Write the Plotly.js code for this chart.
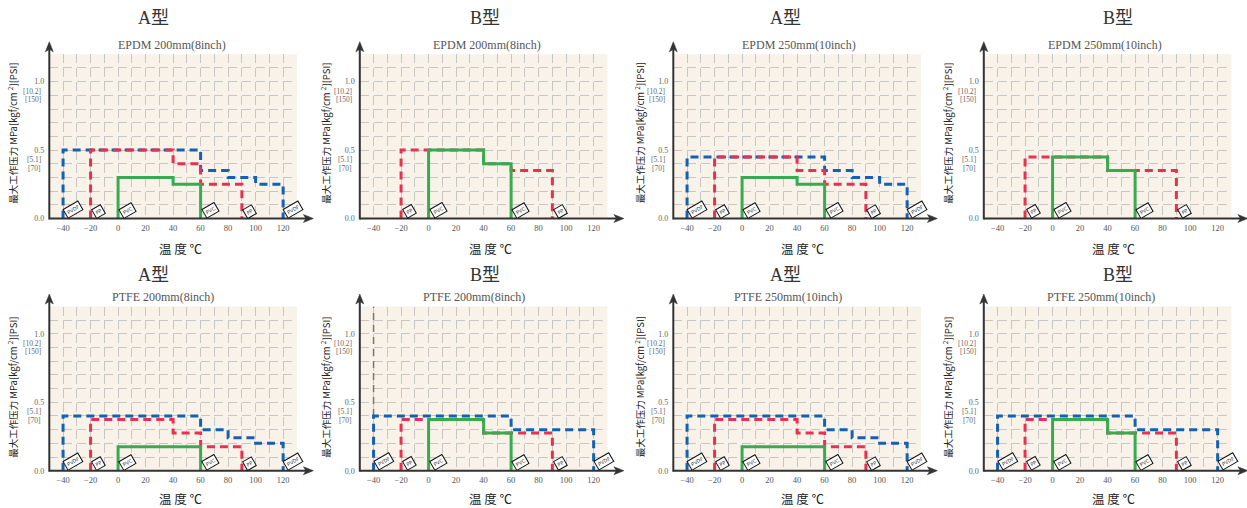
<!DOCTYPE html>
<html><head><meta charset="utf-8">
<script src="https://cdn.plot.ly/plotly-3.0.1.min.js"></script>
<style>html,body{margin:0;padding:0;background:#fff}#chart{width:1247px;height:508px}</style>
</head><body><div id="chart"></div>
<script>
// ================= DATA =================
const panelTypes = ['A型','B型','A型','B型','A型','B型','A型','B型'];
const panelSubtitles = ['EPDM 200mm(8inch)','EPDM 200mm(8inch)','EPDM 250mm(10inch)','EPDM 250mm(10inch)',
                        'PTFE 200mm(8inch)','PTFE 200mm(8inch)','PTFE 250mm(10inch)','PTFE 250mm(10inch)'];
const seriesNames = ['PVDF','PP','PVC'];
const xAxisTitle = '温 度 ℃';
const yAxisTitle = '最大工作压力 MPa[kgf/cm <sup>2</sup>][PSI]';
const yTickVals = [0, 0.5, 1.0];
const yTickText = ['0.0', '0.5', '1.0'];
const kgfText = ['[5.1]', '[10.2]'];
const psiText = ['[70]', '[150]'];
const bracketVals = [0.5, 1.0];

// temps = start, breakpoints, end (°C); levels = max pressure (MPa) between them
// EPDM 200mm A
const p1PvdfTemps = [-40, 60, 80, 100, 120]; const p1PvdfLevels = [0.5, 0.35, 0.3, 0.25];
const p1PpTemps   = [-20, 40, 60, 90];       const p1PpLevels   = [0.5, 0.4, 0.25];
const p1PvcTemps  = [0, 40, 60];             const p1PvcLevels  = [0.3, 0.25];
// EPDM 200mm B
const p2PpTemps   = [-20, 40, 60, 90];       const p2PpLevels   = [0.5, 0.4, 0.35];
const p2PvcTemps  = [0, 40, 60];             const p2PvcLevels  = [0.5, 0.4];
// EPDM 250mm A
const p3PvdfTemps = [-40, 60, 80, 100, 120]; const p3PvdfLevels = [0.45, 0.35, 0.3, 0.25];
const p3PpTemps   = [-20, 40, 60, 90];       const p3PpLevels   = [0.45, 0.35, 0.25];
const p3PvcTemps  = [0, 40, 60];             const p3PvcLevels  = [0.3, 0.25];
// EPDM 250mm B
const p4PpTemps   = [-20, 40, 60, 90];       const p4PpLevels   = [0.45, 0.35, 0.35];
const p4PvcTemps  = [0, 40, 60];             const p4PvcLevels  = [0.45, 0.35];
// PTFE 200mm A
const p5PvdfTemps = [-40, 60, 80, 100, 120]; const p5PvdfLevels = [0.4, 0.3, 0.24, 0.2];
const p5PpTemps   = [-20, 40, 60, 90];       const p5PpLevels   = [0.375, 0.275, 0.175];
const p5PvcTemps  = [0, 60];                 const p5PvcLevels  = [0.175];
// PTFE 200mm B
const p6PvdfTemps = [-40, 60, 120];          const p6PvdfLevels = [0.4, 0.3];
const p6PpTemps   = [-20, 40, 90];           const p6PpLevels   = [0.375, 0.275];
const p6PvcTemps  = [0, 40, 60];             const p6PvcLevels  = [0.375, 0.275];
const p6GuideTemps = [-40, -40];             const p6GuideLevels = [0.4, 1.2];
// PTFE 250mm A
const p7PvdfTemps = [-40, 60, 80, 100, 120]; const p7PvdfLevels = [0.4, 0.3, 0.24, 0.2];
const p7PpTemps   = [-20, 40, 60, 90];       const p7PpLevels   = [0.375, 0.275, 0.175];
const p7PvcTemps  = [0, 60];                 const p7PvcLevels  = [0.175];
// PTFE 250mm B
const p8PvdfTemps = [-40, 60, 120];          const p8PvdfLevels = [0.4, 0.3];
const p8PpTemps   = [-20, 40, 90];           const p8PpLevels   = [0.375, 0.275];
const p8PvcTemps  = [0, 40, 60];             const p8PvcLevels  = [0.375, 0.275];

const panels = [
  [[p1PvdfTemps, p1PvdfLevels], [p1PpTemps, p1PpLevels], [p1PvcTemps, p1PvcLevels]],
  [null, [p2PpTemps, p2PpLevels], [p2PvcTemps, p2PvcLevels]],
  [[p3PvdfTemps, p3PvdfLevels], [p3PpTemps, p3PpLevels], [p3PvcTemps, p3PvcLevels]],
  [null, [p4PpTemps, p4PpLevels], [p4PvcTemps, p4PvcLevels]],
  [[p5PvdfTemps, p5PvdfLevels], [p5PpTemps, p5PpLevels], [p5PvcTemps, p5PvcLevels]],
  [[p6PvdfTemps, p6PvdfLevels], [p6PpTemps, p6PpLevels], [p6PvcTemps, p6PvcLevels]],
  [[p7PvdfTemps, p7PvdfLevels], [p7PpTemps, p7PpLevels], [p7PvcTemps, p7PvcLevels]],
  [[p8PvdfTemps, p8PvdfLevels], [p8PpTemps, p8PpLevels], [p8PvcTemps, p8PvcLevels]]
];

// ================= STYLE / LAYOUT =================
const W = 1247, H = 508;
const colX = [[49.3, 296.9], [359.8, 607.4], [673.3, 920.9], [983.8, 1231.4]];
const rowY = [[54.3, 218.5], [306.5, 470.7]];
const typeX = [153, 485, 785, 1118], typeY = [18, 275];
const subX = [[172, 487, 799, 1105], [163, 474, 788, 1101]], subY = [45, 297];
const xtX = [180, 490, 803, 1113], xtY = [248, 498];
const ytOff = [-37.5, -35, -34, -37], ytY = [133, 387];
const seriesColors = ['#1560b0', '#e83050', '#3aaa50'];
const seriesDash = ['8px,5px', '8px,5px', 'solid'];
const boxShift = [[10, 9], [8, 7], [9.5, 8]];
const gridColor = '#c6c6c6', gridDash = '9px,4.75px';
const axisColor = '#333';
const serif = 'Liberation Serif, DejaVu Serif, serif';
const cjk = 'Noto Sans CJK SC, Noto Sans, sans-serif';

const px = x => x / W, py = y => 1 - y / H;
const traces = [];
const annotations = [];
const shapes = [];
const layout = {
  width: W, height: H, margin: {l: 0, r: 0, t: 0, b: 0},
  paper_bgcolor: '#ffffff', plot_bgcolor: '#f8f2e8', showlegend: false,
  annotations: annotations, shapes: shapes
};

function arrowHead(tx, ty, dir) {
  const L = 10, Wd = 4, N = 7.5;
  let pts;
  if (dir === 'right') pts = [[tx, ty], [tx - L, ty - Wd], [tx - N, ty], [tx - L, ty + Wd]];
  else pts = [[tx, ty], [tx - Wd, ty + L], [tx, ty + N], [tx + Wd, ty + L]];
  return 'M' + pts.map(p => px(p[0]) + ',' + py(p[1])).join('L') + 'Z';
}

panels.forEach((series, i) => {
  const r = Math.floor(i / 4), c = i % 4;
  const s = i === 0 ? '' : String(i + 1);
  const [x0, x1] = colX[c], [yt, yb] = rowY[r];
  layout['xaxis' + s] = {
    domain: [px(x0), px(x1)], anchor: 'y' + s, range: [-50, 130], fixedrange: true,
    tick0: -40, dtick: 20, showgrid: true, gridcolor: gridColor, griddash: gridDash, gridwidth: 1,
    minor: {dtick: 10, tick0: -50, showgrid: true, gridcolor: gridColor, griddash: gridDash, gridwidth: 1},
    zeroline: false, showline: false, ticks: '', automargin: false,
    tickfont: {family: serif, size: 8.5, color: '#555'}, ticklabelstandoff: 3
  };
  layout['yaxis' + s] = {
    domain: [py(yb), py(yt)], anchor: 'x' + s, range: [0, 1.2], fixedrange: true,
    tickmode: 'array', tickvals: yTickVals, ticktext: yTickText,
    showgrid: true, gridcolor: gridColor, griddash: gridDash, gridwidth: 1,
    minor: {dtick: 0.1, tick0: 0, showgrid: true, gridcolor: gridColor, griddash: gridDash, gridwidth: 1},
    zeroline: false, showline: false, ticks: '', automargin: false,
    tickfont: {family: serif, size: 8, color: '#666'}, ticklabelstandoff: 4
  };
  bracketVals.forEach((v, k) => {
    [[kgfText[k], -9.5], [psiText[k], -18]].forEach(([t, sh]) => {
      annotations.push({xref: 'paper', yref: 'y' + s, x: px(x0 - 6), y: v, yshift: sh,
        xanchor: 'right', yanchor: 'middle', text: t, showarrow: false,
        font: {family: serif, size: 7.5, color: '#666'}});
    });
  });
  if (i === 5) {
    traces.push({
      type: 'scatter', mode: 'lines', hoverinfo: 'skip', x: p6GuideTemps, y: p6GuideLevels,
      xaxis: 'x' + s, yaxis: 'y' + s, line: {color: '#777', width: 1.5, dash: '7px,5px'}
    });
  }
  series.forEach((d, k) => {
    if (!d) return;
    const [temps, levels] = d;
    traces.push({
      type: 'scatter', mode: 'lines', name: seriesNames[k], hoverinfo: 'skip',
      x: [temps[0]].concat(temps), y: [0].concat(levels, [0]),
      xaxis: 'x' + s, yaxis: 'y' + s,
      line: {shape: 'hv', color: seriesColors[k], width: 3, dash: seriesDash[k]}
    });
    [temps[0], temps[temps.length - 1]].forEach(t => {
      annotations.push({xref: 'x' + s, yref: 'y' + s, x: t, y: 0,
        xshift: boxShift[k][0], yshift: boxShift[k][1], text: seriesNames[k], textangle: -30,
        showarrow: false, font: {family: 'DejaVu Sans', size: 5, color: '#333'},
        bgcolor: '#ffffff', bordercolor: '#111', borderwidth: 1, borderpad: 1.5});
    });
  });
  shapes.push({type: 'line', xref: 'paper', yref: 'paper', x0: px(x0), x1: px(x1 + 10), y0: py(yb), y1: py(yb),
    line: {color: axisColor, width: 2}});
  shapes.push({type: 'line', xref: 'paper', yref: 'paper', x0: px(x0), x1: px(x0), y0: py(yb + 1), y1: py(yt - 6),
    line: {color: axisColor, width: 2}});
  shapes.push({type: 'path', xref: 'paper', yref: 'paper', path: arrowHead(x1 + 16.5, yb, 'right'),
    fillcolor: axisColor, line: {color: axisColor, width: 0.5}});
  shapes.push({type: 'path', xref: 'paper', yref: 'paper', path: arrowHead(x0, yt - 12.5, 'up'),
    fillcolor: axisColor, line: {color: axisColor, width: 0.5}});
  annotations.push({xref: 'paper', yref: 'paper', x: px(typeX[c]), y: py(typeY[r]),
    xanchor: 'center', yanchor: 'middle', text: panelTypes[i], showarrow: false,
    font: {family: 'Liberation Serif, Noto Sans CJK SC', size: 18, color: '#333'}});
  annotations.push({xref: 'paper', yref: 'paper', x: px(subX[r][c]), y: py(subY[r]),
    xanchor: 'center', yanchor: 'middle', text: panelSubtitles[i], showarrow: false,
    font: {family: serif, size: 12, color: '#555'}});
  annotations.push({xref: 'paper', yref: 'paper', x: px(xtX[c]), y: py(xtY[r]),
    xanchor: 'center', yanchor: 'middle', text: xAxisTitle, showarrow: false,
    font: {family: cjk, size: 12.5, color: '#222'}});
  annotations.push({xref: 'paper', yref: 'paper', x: px(x0 + ytOff[c]), y: py(ytY[r]),
    xanchor: 'center', yanchor: 'middle', text: yAxisTitle, textangle: -90, showarrow: false,
    font: {family: cjk, size: 9.5, color: '#222'}});
});

Plotly.newPlot('chart', traces, layout, {staticPlot: true, displayModeBar: false});
</script>
</body></html>
